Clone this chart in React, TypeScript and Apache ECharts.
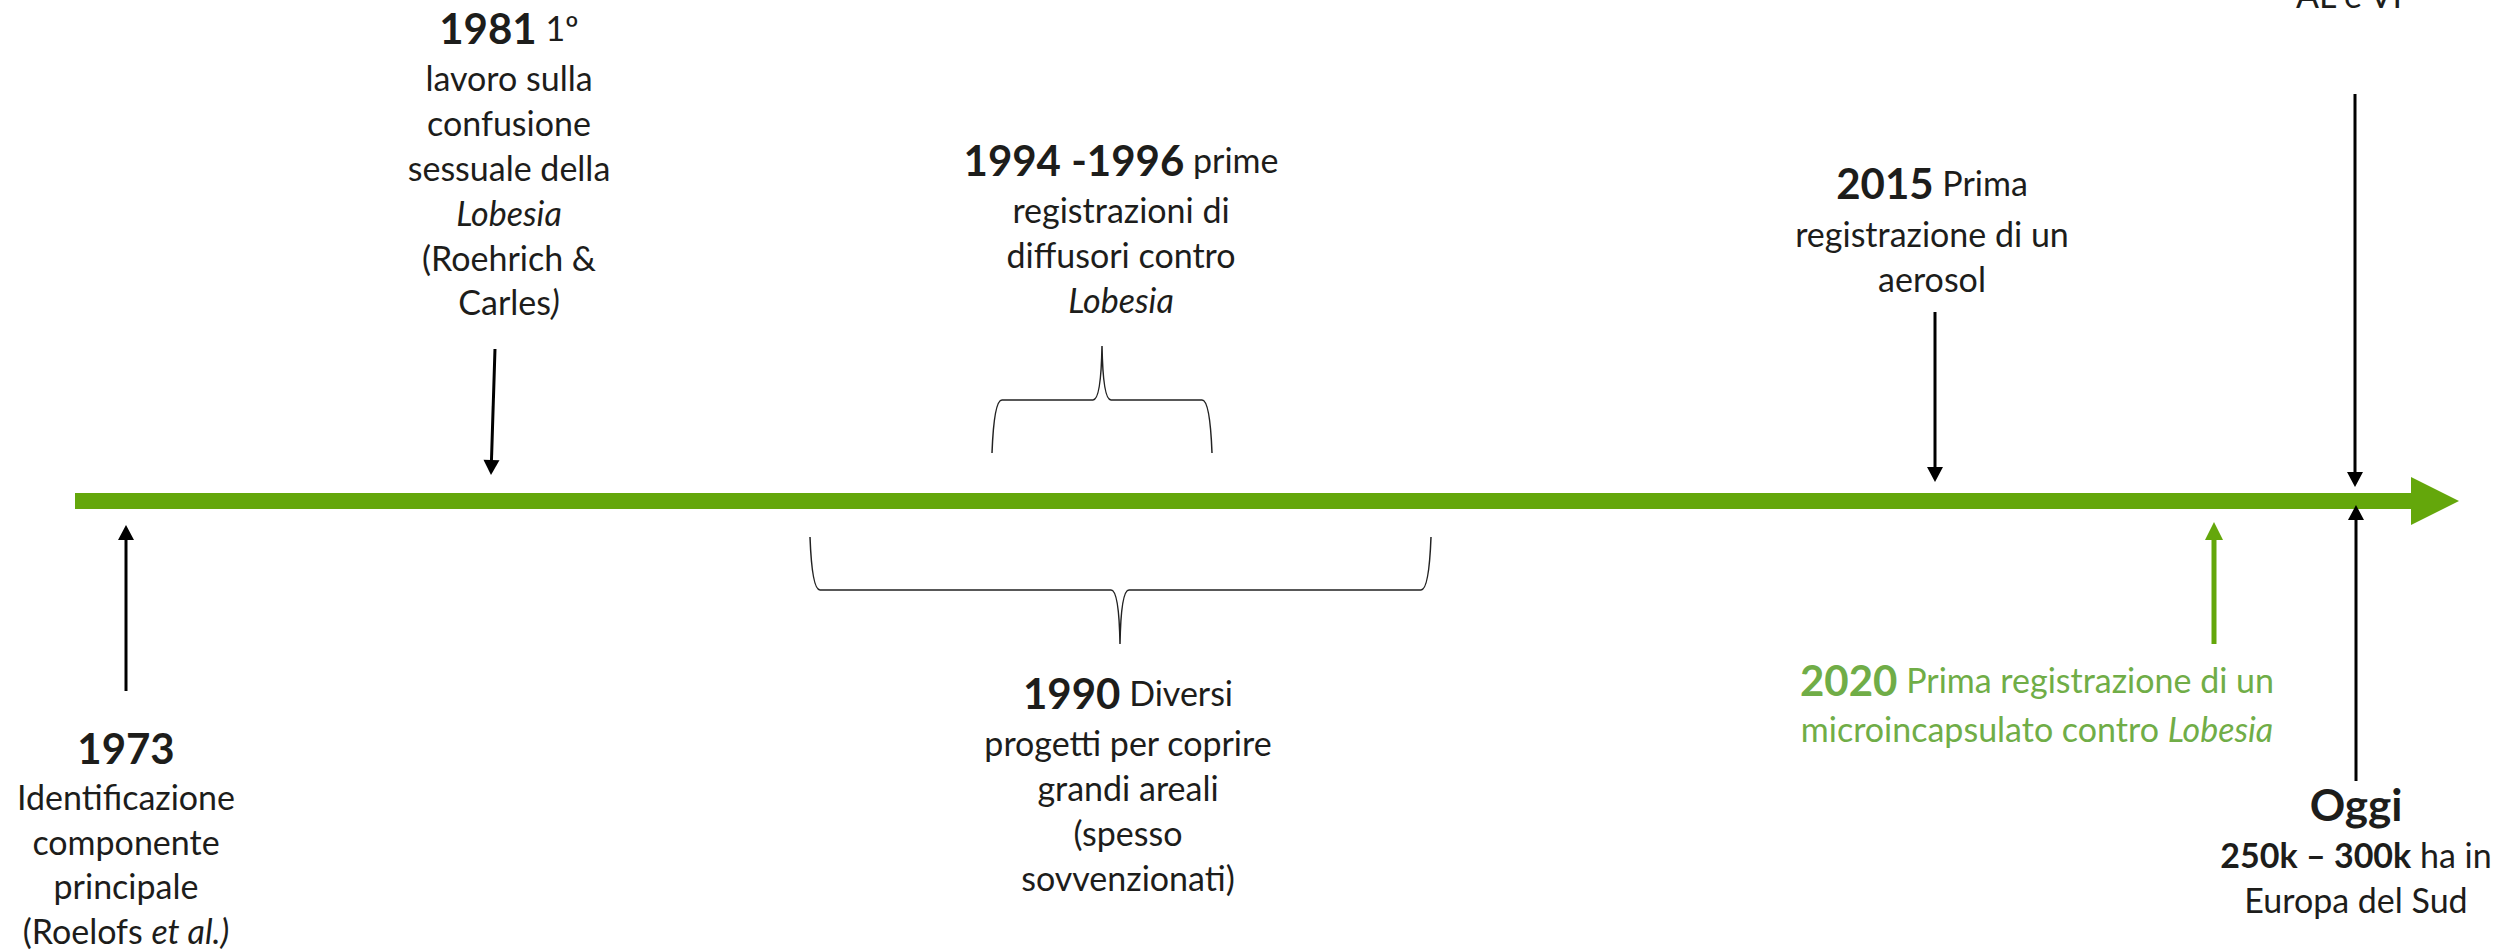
import React, { useEffect, useRef } from "react";
import * as echarts from "echarts";

const W = 2499;
const H = 950;

const FONT = "Lato, 'Open Sans', sans-serif";
const TEXT_DARK = "#1d1d1b";
const GREEN_BAR = "#64a70b";
const GREEN_TEXT = "#70ad47";
const BODY = 34;
const HEAD = 42;

// ---------- text content (rich markup) ----------
const text1973 = ["{b|1973}", "Identificazione", "componente", "principale", "(Roelofs {i|et al.)}"];
const text1981 = ["{b|1981} 1º", "lavoro sulla", "confusione", "sessuale della", "{i|Lobesia}", "(Roehrich &", "Carles{i|)}"];
const text1994 = ["{b|1994 -1996} prime", "registrazioni di", "diffusori contro", "{i|Lobesia}"];
const text1990 = ["{b|1990} Diversi", "progetti per coprire", "grandi areali", "(spesso", "sovvenzionati)"];
const text2015 = ["{b|2015} Prima", "registrazione di un", "aerosol"];
const text2020 = ["{b|2020} Prima registrazione di un", "microincapsulato contro {i|Lobesia}"];
const textTop = ["AL e VI"];
const textOggi = ["{h|Oggi}", "{bs|250k – 300k} ha in", "Europa del Sud"];

// ---------- layout: anchor x and baselines of each line ----------
const blockX = [126, 509, 1121, 1128, 1932, 2037, 2349, 2356];
const blockBaselines = [
  [763, 809, 854, 898, 943],
  [43, 90, 135, 180, 225, 270, 314],
  [175, 222, 267, 312],
  [708, 755, 800, 845, 890],
  [198, 246, 291],
  [695, 741],
  [7],
  [820, 867, 912],
];
const blockTexts = [text1973, text1981, text1994, text1990, text2015, text2020, textTop, textOggi];
const blockGreen = [false, false, false, false, false, true, false, false];

// ---------- timeline bar: [startX, shaftEndX, tipX, centerY] ----------
const timelineBar = [[75, 2411, 2459, 501]];

// ---------- arrows: [x1, y1, x2(tip), y2(tip), green?] ----------
const arrows = [
  [126, 691, 126, 525, 0],
  [495, 349, 491, 475, 0],
  [1935, 312, 1935, 482, 0],
  [2355, 94, 2355, 487, 0],
  [2356, 781, 2356, 505, 0],
  [2214, 644, 2214, 522, 1],
];

// ---------- braces: [leftX, rightX, legEndY, barY, tipX, tipY] ----------
const braces = [
  [992, 1212, 453, 400, 1102, 346],
  [810, 1431, 537, 590, 1120, 644],
];

type Line = { text: string; x: number; y: number; color: string };
const lines: Line[] = [];
blockTexts.forEach((arr, bi) => {
  arr.forEach((t, li) => {
    const heading = t.startsWith("{b|") || t.startsWith("{h|");
    const size = t.startsWith("{h|") ? 44 : heading ? HEAD : BODY;
    lines.push({
      text: t,
      x: blockX[bi],
      y: blockBaselines[bi][li] - 0.36 * size,
      color: blockGreen[bi] ? GREEN_TEXT : TEXT_DARK,
    });
  });
});

function richFor(color: string) {
  return {
    b: { fontSize: HEAD, fontWeight: "bold", fontFamily: FONT, fill: color },
    h: { fontSize: 44, fontWeight: "bold", fontFamily: FONT, fill: color },
    bs: { fontSize: BODY, fontWeight: "bold", fontFamily: FONT, fill: color },
    i: { fontSize: BODY, fontStyle: "italic", fontFamily: FONT, fill: color },
  };
}

export default function App() {
  const ref = useRef<HTMLDivElement>(null);
  useEffect(() => {
    document.body.style.margin = "0";
    if (!ref.current) return;
    const chart = echarts.init(ref.current, undefined, { renderer: "svg" });
    const option: any = {
      animation: false,
      backgroundColor: "#ffffff",
      grid: { left: 0, right: 0, top: 0, bottom: 0 },
      xAxis: { type: "value", min: 0, max: W, show: false },
      yAxis: { type: "value", min: 0, max: H, inverse: true, show: false },
      series: [
        {
          type: "custom",
          silent: true,
          clip: false,
          data: timelineBar,
          encode: { x: 0, y: 3 },
          renderItem: (_p: any, api: any) => {
            const x0 = api.value(0), xb = api.value(1), xt = api.value(2), yc = api.value(3);
            const c = (x: number, y: number) => api.coord([x, y]);
            return {
              type: "polygon",
              shape: {
                points: [
                  c(x0, yc - 8), c(xb, yc - 8), c(xb, yc - 24), c(xt, yc),
                  c(xb, yc + 24), c(xb, yc + 8), c(x0, yc + 8),
                ],
              },
              style: { fill: GREEN_BAR },
            };
          },
        },
        {
          type: "custom",
          silent: true,
          clip: false,
          data: arrows,
          encode: { x: 0, y: 1 },
          renderItem: (_p: any, api: any) => {
            const p1 = api.coord([api.value(0), api.value(1)]);
            const p2 = api.coord([api.value(2), api.value(3)]);
            const green = api.value(4) === 1;
            const col = green ? GREEN_BAR : "#000000";
            const dx = p2[0] - p1[0], dy = p2[1] - p1[1];
            const len = Math.hypot(dx, dy);
            const ux = dx / len, uy = dy / len;
            const hl = green ? 18 : 15;
            const hw = green ? 9 : 8;
            const bx = p2[0] - ux * hl, by = p2[1] - uy * hl;
            return {
              type: "group",
              children: [
                {
                  type: "line",
                  shape: { x1: p1[0], y1: p1[1], x2: bx + ux * 2, y2: by + uy * 2 },
                  style: { stroke: col, lineWidth: green ? 5 : 3 },
                },
                {
                  type: "polygon",
                  shape: { points: [[p2[0], p2[1]], [bx - uy * hw, by + ux * hw], [bx + uy * hw, by - ux * hw]] },
                  style: { fill: col },
                },
              ],
            };
          },
        },
        {
          type: "custom",
          silent: true,
          clip: false,
          data: braces,
          encode: { x: 0, y: 2 },
          renderItem: (_p: any, api: any) => {
            const L = api.value(0), R = api.value(1), ly = api.value(2), by = api.value(3);
            const tx = api.value(4), ty = api.value(5);
            const c = (x: number, y: number) => api.coord([x, y]).map((v: number) => v.toFixed(1)).join(" ");
            const d =
              `M ${c(L, ly)} Q ${c(L + 2, by)} ${c(L + 10, by)} ` +
              `L ${c(tx - 9, by)} Q ${c(tx - 1, by)} ${c(tx, ty)} ` +
              `Q ${c(tx + 1, by)} ${c(tx + 9, by)} ` +
              `L ${c(R - 10, by)} Q ${c(R - 2, by)} ${c(R, ly)}`;
            return {
              type: "path",
              shape: { pathData: d },
              style: { stroke: "#222222", fill: "none", lineWidth: 1.5 },
            };
          },
        },
        {
          type: "custom",
          silent: true,
          clip: false,
          data: lines.map((l, i) => [l.x, l.y, i]),
          encode: { x: 0, y: 1 },
          renderItem: (_p: any, api: any) => {
            const l = lines[api.value(2)];
            const p = api.coord([api.value(0), api.value(1)]);
            return {
              type: "text",
              x: p[0],
              y: p[1],
              style: {
                text: l.text,
                fill: l.color,
                fontSize: BODY,
                fontFamily: FONT,
                align: "center",
                verticalAlign: "middle",
                rich: richFor(l.color),
              },
            };
          },
        },
      ],
    };
    chart.setOption(option);
    return () => chart.dispose();
  }, []);
  return <div ref={ref} style={{ width: W, height: H }} />;
}
